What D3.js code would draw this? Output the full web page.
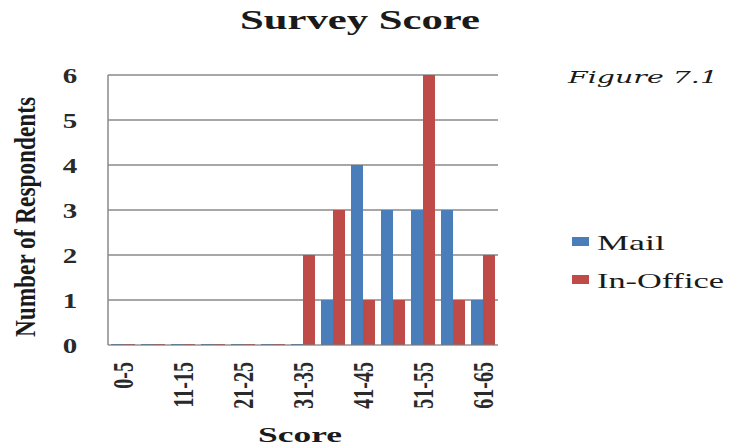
<!DOCTYPE html>
<html>
<head>
<meta charset="utf-8">
<script src="https://cdn.jsdelivr.net/npm/d3@7/dist/d3.min.js"></script>
<style>
  html, body { margin: 0; padding: 0; background: #fff; }
  svg { display: block; }
</style>
</head>
<body>
<svg id="chart" width="732" height="447"></svg>
<script>
// Score bands (only every other one gets a label on the axis)
const categories = ["0-5", "6-10", "11-15", "16-20", "21-25", "26-30", "31-35",
                    "36-40", "41-45", "46-50", "51-55", "56-60", "61-65"];
const mailValues = [0, 0, 0, 0, 0, 0, 0, 1, 4, 3, 3, 3, 1];
const officeValues = [0, 0, 0, 0, 0, 0, 2, 3, 1, 1, 6, 1, 2];
const seriesNames = ["Mail", "In-Office"];
const yTicks = [0, 1, 2, 3, 4, 5, 6];

const colors = { "Mail": "#4a7ebb", "In-Office": "#be4b48" };
const SERIF = "'Liberation Serif', 'Times New Roman', 'DejaVu Serif', serif";
const WIDE = 1.45; // horizontal stretch of the lettering

const svg = d3.select("#chart");
const plot = { left: 108, right: 498, top: 75, bottom: 345 };

const x = d3.scaleBand().domain(categories).range([plot.left, plot.right]).paddingInner(0).paddingOuter(0);
const xSub = d3.scaleBand().domain(seriesNames).range([0, x.bandwidth()]).paddingInner(0).paddingOuter(0.25);
const y = d3.scaleLinear().domain([0, 6]).range([plot.bottom, plot.top]);

// horizontal gridlines
svg.append("g").selectAll("line").data(yTicks.filter(d => d > 0)).join("line")
  .attr("x1", plot.left).attr("x2", plot.right)
  .attr("y1", d => y(d)).attr("y2", d => y(d))
  .attr("stroke", "#8a8a8a").attr("stroke-width", 1.3);

// bars
const rows = categories.map((c, i) => ({ cat: c, values: [
  { name: "Mail", v: mailValues[i] },
  { name: "In-Office", v: officeValues[i] }
]}));

const groups = svg.append("g").selectAll("g").data(rows).join("g")
  .attr("transform", d => `translate(${x(d.cat)},0)`);
groups.selectAll("rect").data(d => d.values).join("rect")
  .attr("x", d => xSub(d.name))
  .attr("width", xSub.bandwidth())
  .attr("y", d => y(d.v) - (d.v === 0 ? 1 : 0))
  .attr("height", d => Math.max(1, y(0) - y(d.v)))
  .attr("fill", d => colors[d.name]);

// axes lines
svg.append("line").attr("x1", plot.left).attr("x2", plot.left)
  .attr("y1", plot.top).attr("y2", plot.bottom)
  .attr("stroke", "#8a8a8a").attr("stroke-width", 1.5);
svg.append("line").attr("x1", plot.left).attr("x2", plot.right)
  .attr("y1", plot.bottom).attr("y2", plot.bottom)
  .attr("stroke", "#7a7a7a").attr("stroke-width", 1.5).attr("opacity", 0.8);

// y tick labels
const yAxis = d3.axisLeft(y).tickValues(yTicks).tickSize(0).tickPadding(0).tickFormat(d3.format("d"));
const gy = svg.append("g").attr("transform", `translate(${plot.left - 38},0)`).call(yAxis);
gy.select(".domain").remove();
gy.selectAll("text")
  .style("font-family", SERIF).style("font-size", "20px").style("font-weight", "bold")
  .attr("fill", "#2a2a2a").attr("text-anchor", "middle").attr("x", 0).attr("dy", "0.35em")
  .attr("transform", `scale(${WIDE},1)`);

// x tick labels (every other band)
const xAxis = d3.axisBottom(x).tickSize(0).tickPadding(0)
  .tickFormat((d, i) => i % 2 === 0 ? d : "");
const gx = svg.append("g").attr("transform", `translate(0,${plot.bottom + 17})`).call(xAxis);
gx.select(".domain").remove();
gx.selectAll("text")
  .style("font-family", SERIF).style("font-size", "20px").style("font-weight", "bold")
  .attr("fill", "#2a2a2a")
  .attr("transform", `scale(${WIDE},1) rotate(-90)`)
  .attr("text-anchor", "end").attr("x", 0).attr("y", 0).attr("dy", "0.33em");

// titles
svg.append("text").attr("x", 360).attr("y", 29).attr("text-anchor", "middle")
  .style("font-family", SERIF).style("font-size", "27px").style("font-weight", "bold")
  .attr("fill", "#1a1a1a").attr("textLength", 240)
  .attr("lengthAdjust", "spacingAndGlyphs").text("Survey Score");

svg.append("text").attr("transform", `translate(35,217) scale(${WIDE},1) rotate(-90)`)
  .attr("text-anchor", "middle")
  .style("font-family", SERIF).style("font-size", "20px").style("font-weight", "bold")
  .attr("fill", "#1a1a1a").attr("textLength", 240)
  .attr("lengthAdjust", "spacingAndGlyphs").text("Number of Respondents");

svg.append("text").attr("x", 300).attr("y", 442).attr("text-anchor", "middle")
  .style("font-family", SERIF).style("font-size", "21px").style("font-weight", "bold")
  .attr("fill", "#1a1a1a").attr("textLength", 84).attr("lengthAdjust", "spacingAndGlyphs")
  .text("Score");

svg.append("text").attr("x", 568).attr("y", 83)
  .style("font-family", "'DejaVu Serif', serif").style("font-style", "italic")
  .style("font-size", "17px").attr("fill", "#1a1a1a")
  .attr("textLength", 150).attr("lengthAdjust", "spacingAndGlyphs")
  .text("Figure 7.1");

// legend
const legendWidths = { "Mail": 68, "In-Office": 127 };
const legend = svg.append("g").selectAll("g").data(seriesNames).join("g")
  .attr("transform", (d, i) => `translate(572,${242 + i * 38})`);
legend.append("rect").attr("x", 0).attr("y", -5).attr("width", 17).attr("height", 9)
  .attr("fill", d => colors[d]);
legend.append("text").attr("x", 25).attr("y", 8)
  .style("font-family", SERIF).style("font-size", "22px")
  .attr("fill", "#1a1a1a").attr("textLength", d => legendWidths[d])
  .attr("lengthAdjust", "spacingAndGlyphs").text(d => d);
</script>
</body>
</html>
